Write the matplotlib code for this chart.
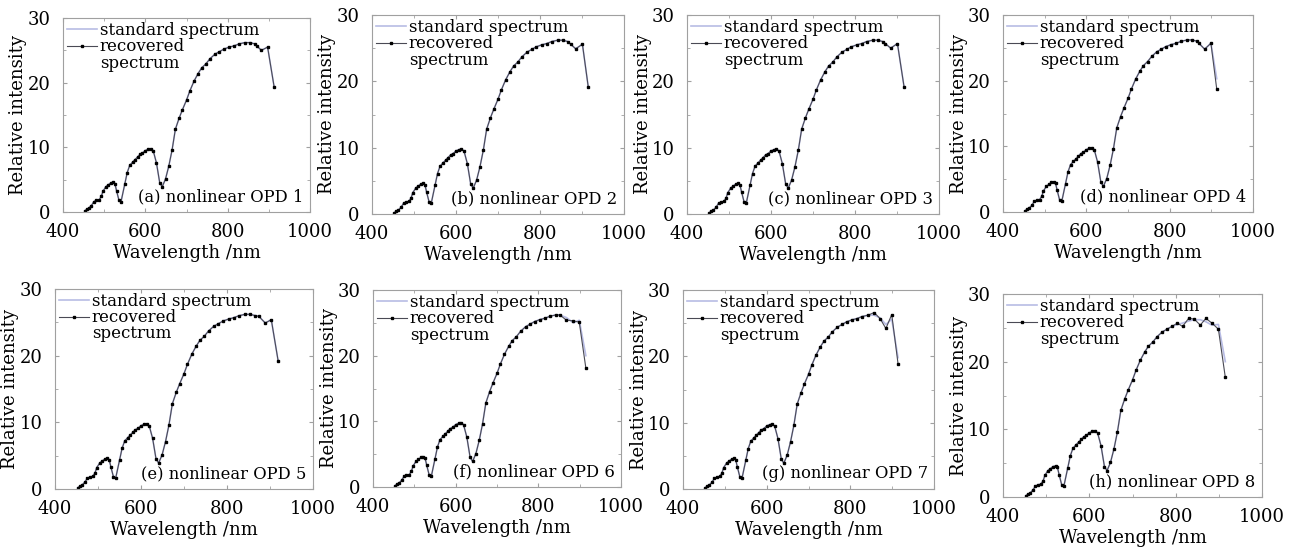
import matplotlib
matplotlib.use('Agg')
import matplotlib.pyplot as plt
from matplotlib.lines import Line2D
from matplotlib.ticker import MultipleLocator

plt.rcParams['font.family'] = ['DejaVu Serif']

# common part of the spectrum (standard == recovered here)
base_wl = [453, 458, 463, 469, 475, 481, 488, 493, 497, 504, 510, 516, 522, 526,
           530, 536, 541, 550, 556, 562, 569, 575, 581, 587, 593, 600, 607, 613,
           619, 627, 635, 641, 649, 657, 665, 673, 682, 690, 700, 708, 718, 728,
           737, 747, 757, 769, 780, 791, 804, 816, 828, 842, 854, 866]
base_val = [0.2, 0.4, 0.6, 1.0, 1.6, 1.8, 1.9, 2.4, 3.2, 3.9, 4.2, 4.5, 4.6, 4.4,
            3.3, 1.8, 1.6, 4.3, 6.1, 7.2, 7.7, 8.1, 8.5, 8.9, 9.1, 9.5, 9.7, 9.8,
            9.5, 7.6, 4.5, 3.9, 5.1, 7.1, 9.6, 12.8, 14.5, 15.8, 17.3, 18.7, 20.2, 21.4,
            22.3, 22.9, 23.7, 24.4, 24.8, 25.2, 25.5, 25.7, 26.0, 26.2, 26.2, 26.0]

labels = ['(a) nonlinear OPD 1', '(b) nonlinear OPD 2', '(c) nonlinear OPD 3',
          '(d) nonlinear OPD 4', '(e) nonlinear OPD 5', '(f) nonlinear OPD 6',
          '(g) nonlinear OPD 7', '(h) nonlinear OPD 8']

# base points kept before the tail of each panel
tail_start = [870, 870, 870, 870, 870, 850, 850, 800]
tail_wl = [
    [872, 882, 897, 913],
    [873, 885, 901, 915],
    [872, 885, 901, 917],
    [870, 884, 899, 913],
    [874, 889, 903, 919],
    [852, 868, 885, 899, 915],
    [857, 871, 885, 899, 914],
    [804, 816, 830, 843, 857, 870, 884, 899, 915],
]
tail_std = [
    [25.6, 25.0, 25.5, 19.3],
    [25.6, 24.9, 25.6, 19.1],
    [25.7, 25.0, 25.7, 19.1],
    [25.7, 24.8, 25.7, 20.3],
    [25.9, 24.9, 25.4, 19.2],
    [26.2, 25.8, 25.0, 25.4, 20.0],
    [26.2, 25.8, 24.8, 25.6, 19.8],
    [25.5, 25.7, 26.0, 26.2, 26.2, 25.9, 25.4, 25.5, 20.0],
]
tail_rec = [
    [25.6, 25.0, 25.5, 19.3],
    [25.6, 24.9, 25.6, 19.1],
    [25.7, 25.0, 25.7, 19.1],
    [25.7, 24.8, 25.7, 18.7],
    [25.9, 24.9, 25.4, 19.2],
    [26.2, 25.4, 25.3, 25.1, 18.1],
    [26.6, 25.7, 24.2, 26.3, 18.9],
    [25.7, 25.2, 26.4, 26.3, 25.4, 26.4, 25.7, 24.8, 17.7],
]

# axes boxes in pixels: left, top, right, bottom
W, H = 1292, 551
boxes = [(63, 18, 310, 212), (372, 15, 624, 214), (687, 15, 939, 214), (1003, 15, 1253, 212),
         (55, 289, 313, 489), (373, 290, 621, 487), (683, 290, 934, 489), (1003, 294, 1262, 497)]

fig = plt.figure(figsize=(W / 100, H / 100), dpi=100)
spine_col = '#a0a0a0'
std_col = '#b8bce4'
rec_col = '#4a4a55'

for i, lab in enumerate(labels):
    l, t, r, b = boxes[i]
    ax = fig.add_axes([l / W, 1 - b / H, (r - l) / W, (b - t) / H])
    keep = [k for k, w in enumerate(base_wl) if w < tail_start[i]]
    x = [base_wl[k] for k in keep] + tail_wl[i]
    ys = [base_val[k] for k in keep] + tail_std[i]
    yr = [base_val[k] for k in keep] + tail_rec[i]
    ax.plot(x, ys, color=std_col, lw=1.2)
    ax.plot(x, yr, color=rec_col, lw=0.8, marker='s', ms=1.6,
            mfc='black', mec='black')
    ax.set_xlim(400, 1000)
    ax.set_ylim(0, 30)
    ax.xaxis.set_major_locator(MultipleLocator(200))
    ax.xaxis.set_minor_locator(MultipleLocator(100))
    ax.yaxis.set_major_locator(MultipleLocator(10))
    ax.yaxis.set_minor_locator(MultipleLocator(5))
    for s in ax.spines.values():
        s.set_color(spine_col)
        s.set_linewidth(0.8)
    ax.tick_params(which='both', direction='in', top=True, right=True,
                   color=spine_col, labelsize=13)
    ax.tick_params(axis='x', pad=8)
    ax.tick_params(axis='y', pad=9)
    ax.tick_params(which='major', length=3)
    ax.tick_params(which='minor', length=2)
    ax.set_xlabel('Wavelength /nm', fontsize=13, labelpad=2)
    ax.set_ylabel('Relative intensity', fontsize=13, labelpad=0)

    # legend: the second label wraps onto a line of its own
    handles = [Line2D([], [], color=std_col, lw=1.2),
               Line2D([], [], color=rec_col, lw=0.8, marker='s', ms=1.6,
                      mfc='black', mec='black'),
               Line2D([], [], color='none')]
    ax.legend(handles, ['standard spectrum', 'recovered', 'spectrum'],
              loc='upper left', frameon=False, fontsize=12, handlelength=1.8,
              handletextpad=0.15, labelspacing=-0.05, borderaxespad=0.15,
              borderpad=0.1)
    ax.text(0.975, 0.035, lab, transform=ax.transAxes, ha='right', va='bottom',
            fontsize=11.8)

fig.savefig('out.png', dpi=100)
